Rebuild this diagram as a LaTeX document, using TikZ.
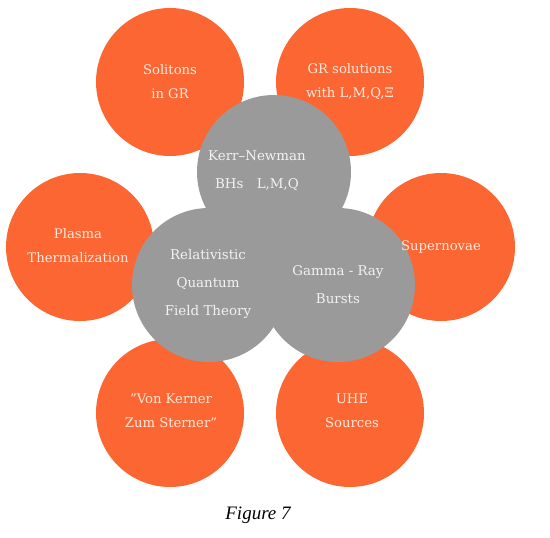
\documentclass[tikz,border=0pt]{standalone}
\usepackage{fontspec}
\setmainfont{DejaVu Serif}
\newfontfamily\capfont{Liberation Serif}
\definecolor{orng}{HTML}{FB6633}
\definecolor{gry}{HTML}{9A9A9A}
\definecolor{ortext}{HTML}{FFE9DC}
\definecolor{grtext}{HTML}{F2F2F2}
\begin{document}
\begin{tikzpicture}[x=1pt,y=-1pt,
  obub/.style={circle,fill=orng,minimum size=148pt,inner sep=0pt},
  gbub/.style={circle,fill=gry,minimum size=154pt,inner sep=0pt},
  otxt/.style={text=ortext,font=\fontsize{13.2}{24}\selectfont,align=center},
  gtxt/.style={text=grtext,font=\fontsize{13.4}{28}\selectfont,align=center}]
\useasboundingbox (0,0) rectangle (550,538);
\node[obub] (sol) at (170,82) {};
\node[obub] (grs) at (350,82) {};
\node[obub] (pla) at (80,247) {};
\node[obub] (sup) at (441,247) {};
\node[obub] (von) at (170,413) {};
\node[obub] (uhe) at (350,413) {};
\node[gbub] (kn) at (274,172) {};
\node[gbub] (rq) at (209,285) {};
\node[gbub] (gr) at (338,285) {};
\node[otxt] (tsol) at (170,82) {Solitons\\in GR};
\node[otxt] (tgrs) at (350,82) {GR solutions\\with L,M,Q,Ξ};
\node[otxt] (tpla) at (78,246) {Plasma\\Thermalization};
\node[otxt] (tsup) at (441,247) {Supernovae};
\node[otxt] (tvon) at (171,411) {"Von Kerner\\Zum Sterner"};
\node[otxt] (tuhe) at (352,411) {UHE\\Sources};
\node[gtxt] (tkn) at (257,171) {Kerr–Newman\\BHs\quad L,M,Q};
\node[gtxt] (trq) at (208,284) {Relativistic\\Quantum\\Field Theory};
\node[gtxt] (tgr) at (338,285) {Gamma - Ray\\Bursts};
\node[font=\capfont\itshape\fontsize{19}{22}\selectfont] (cap) at (258,515) {Figure 7};
\end{tikzpicture}
\end{document}
